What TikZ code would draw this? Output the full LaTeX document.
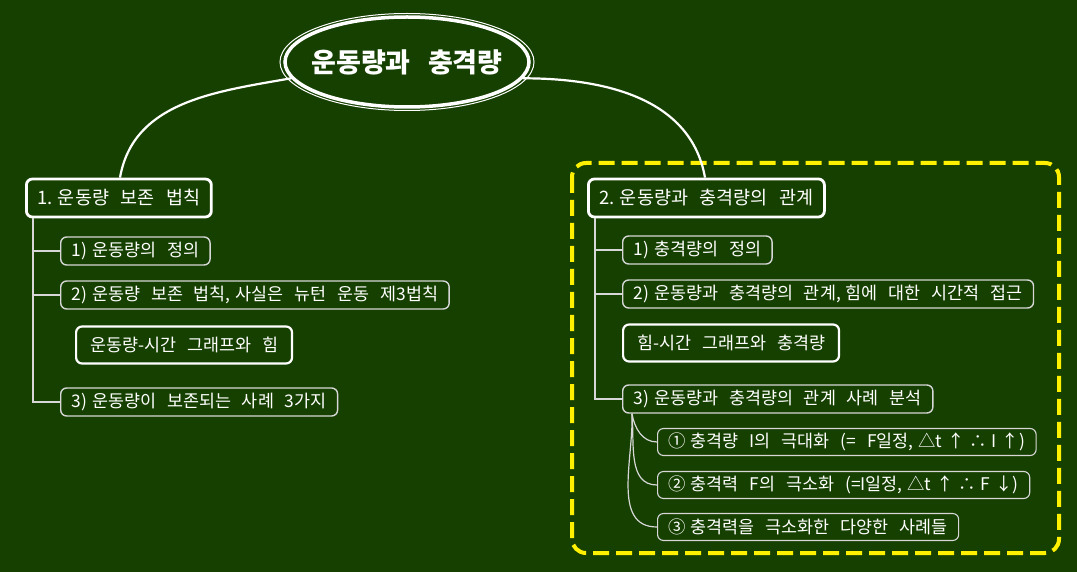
\documentclass[tikz,border=0pt]{standalone}
\usepackage{fontspec}
\setmainfont[WordSpace=2.8]{Noto Sans CJK KR}
\usetikzlibrary{shapes.geometric}
\definecolor{board}{RGB}{22,64,0}
\definecolor{marker}{RGB}{255,240,0}
\definecolor{chalk}{RGB}{215,215,215}
\newcommand{\gap}{\hspace{.28em}}
\begin{document}
\begin{tikzpicture}[x=1pt, y=-1pt,
  topic/.style={ellipse, draw=white, line width=3.5, fill=board, text=white, minimum width=244, minimum height=90, inner xsep=-12, inner ysep=0, font=\fontsize{27}{30}\selectfont\bfseries},
  part/.style={rectangle, rounded corners=6, draw=white, line width=2.8, fill=board, text=white, minimum height=38, inner xsep=11, anchor=west, font=\fontsize{18.5}{21}\selectfont},
  item/.style={rectangle, rounded corners=6, draw=chalk, line width=1.4, fill=board, text=white, minimum height=28, inner xsep=11, anchor=west, font=\fontsize{17.4}{20}\selectfont},
  note/.style={item, draw=white, line width=2.2, minimum height=37, inner xsep=14},
  leaf/.style={item, line width=1.1, minimum height=27},
  branch/.style={white, line width=2.2},
  tree/.style={chalk, line width=1.2}
]
\fill[board] (0,0) rectangle (1077,572);
\useasboundingbox (0,0) rectangle (1077,572);

\draw[marker, line width=4, dash pattern=on 16pt off 7pt, rounded corners=14] (572,163) rectangle (1059,553);

\node[topic] (topic) at (407,62) {운동량과 충격량};
\draw[white, line width=1] (topic.center) ellipse (127 and 48.5);

\node[part] (part1) at (25,198) {1.\gap 운동량 보존 법칙};
\node[item] (def1) at (60,251) {1)\gap 운동량의 정의};
\node[item] (law1) at (60,295) {2)\gap 운동량 보존 법칙,\gap 사실은 뉴턴 운동 제3법칙};
\node[note] (graph1) at (75,345) {운동량-시간 그래프와 힘};
\node[item] (case1) at (60,402) {3)\gap 운동량이 보존되는 사례 3가지};

\node[part] (part2) at (587,198) {2.\gap 운동량과 충격량의 관계};
\node[item] (def2) at (622,250) {1)\gap 충격량의 정의};
\node[item] (rel2) at (622,294) {2)\gap 운동량과 충격량의 관계,\gap 힘에 대한 시간적 접근};
\node[note] (graph2) at (622,343) {힘-시간 그래프와 충격량};
\node[item] (case2) at (622,399) {3)\gap 운동량과 충격량의 관계 사례 분석};
\node[leaf] (ex1) at (657,442) {①\gap 충격량 I의 극대화 (= F일정,\gap △t\gap ↑\gap ∴\gap I\gap ↑)};
\node[leaf] (ex2) at (657,485) {②\gap 충격력 F의 극소화 (=I일정,\gap △t\gap ↑\gap ∴\gap F\gap ↓)};
\node[leaf] (ex3) at (657,527) {③\gap 충격력을 극소화한 다양한 사례들};

\draw[branch] (topic.188) to[out=190,in=80] (part1.north -| 120,0);
\draw[branch] (topic.352) to[out=0,in=100] (part2.north -| 705,0);

\coordinate (trunk1) at ([xshift=8]part1.south west);
\draw[tree] (trunk1) |- (def1.west);
\draw[tree] (trunk1) |- (law1.west);
\draw[tree] (trunk1) |- (case1.west);

\coordinate (trunk2) at ([xshift=8]part2.south west);
\draw[tree] (trunk2) |- (def2.west);
\draw[tree] (trunk2) |- (rel2.west);
\draw[tree] (trunk2) |- (case2.west);

\coordinate (fork) at ([xshift=10]case2.south west);
\draw[tree] (fork) to[out=-80,in=180] (ex1.west);
\draw[tree] (fork) to[out=-85,in=180] (ex2.west);
\draw[tree] (fork) to[out=-88,in=180] (ex3.west);
\end{tikzpicture}
\end{document}
